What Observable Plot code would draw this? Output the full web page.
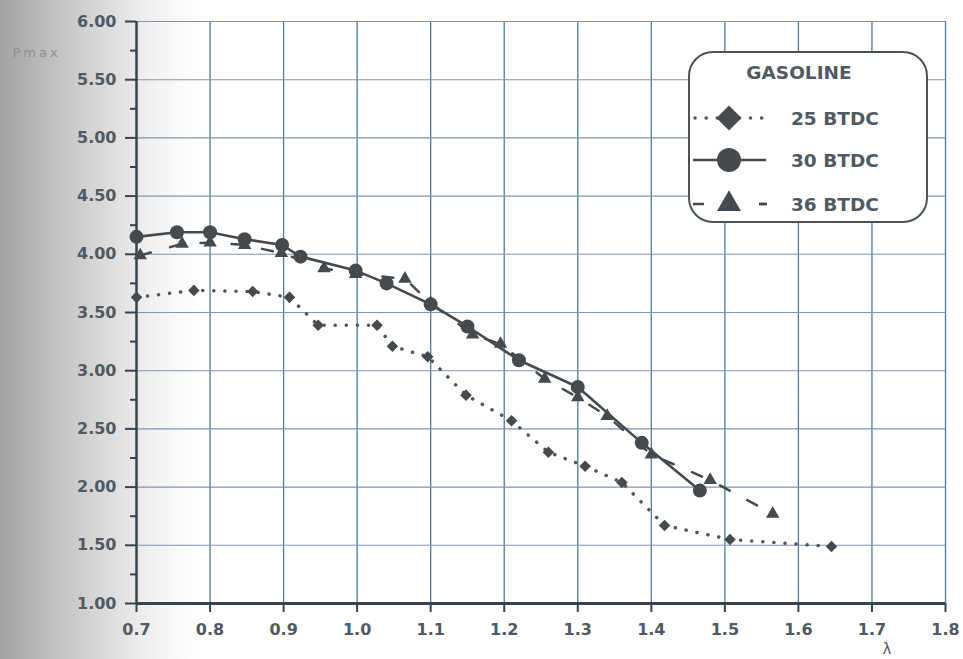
<!DOCTYPE html>
<html><head><meta charset="utf-8">
<script src="https://cdn.jsdelivr.net/npm/d3@7"></script>
<script src="https://cdn.jsdelivr.net/npm/@observablehq/plot@0.6"></script>
<style>
html,body{margin:0;padding:0;}
body{width:963px;height:659px;overflow:hidden;background:linear-gradient(to right,#a2a2a2 0px,#bcbcbc 45px,#d8d8d8 100px,#f1f1f1 150px,#ffffff 200px);font-family:"DejaVu Sans",sans-serif;}
#wrap{position:relative;width:963px;height:659px;}
#wrap svg{position:absolute;left:0;top:0;}
</style></head><body><div id="wrap"></div>
<script>
// ---- data ----
const lambda25 = [0.70, 0.778, 0.858, 0.908, 0.947, 1.027, 1.048, 1.096, 1.148, 1.21, 1.26, 1.31, 1.36, 1.418, 1.507, 1.645];
const pmax25   = [3.63, 3.69, 3.68, 3.63, 3.39, 3.39, 3.21, 3.12, 2.79, 2.57, 2.30, 2.18, 2.04, 1.67, 1.55, 1.49];
const lambda30 = [0.70, 0.755, 0.80, 0.847, 0.898, 0.923, 0.998, 1.04, 1.10, 1.15, 1.22, 1.30, 1.387, 1.466];
const pmax30   = [4.15, 4.19, 4.19, 4.13, 4.08, 3.98, 3.86, 3.75, 3.57, 3.38, 3.09, 2.86, 2.38, 1.97];
const lambda36 = [0.705, 0.762, 0.80, 0.847, 0.897, 0.955, 0.998, 1.065, 1.10, 1.157, 1.195, 1.255, 1.30, 1.34, 1.40, 1.48, 1.565];
const pmax36   = [3.99, 4.09, 4.10, 4.08, 4.01, 3.88, 3.83, 3.79, 3.58, 3.31, 3.23, 2.93, 2.77, 2.61, 2.28, 2.06, 1.77];
const xTicks = [0.7, 0.8, 0.9, 1.0, 1.1, 1.2, 1.3, 1.4, 1.5, 1.6, 1.7, 1.8];
const yMajor = [1.0, 1.5, 2.0, 2.5, 3.0, 3.5, 4.0, 4.5, 5.0, 5.5, 6.0];
const yMinor = [1.25, 1.75, 2.25, 2.75, 3.25, 3.75, 4.25, 4.75, 5.25, 5.75];
const seriesNames = ["25 BTDC", "30 BTDC", "36 BTDC"];
const legendTitle = "GASOLINE";
const yLabel = "Pmax";
const xLabel = "λ";

const ink = "#454a4e";
const axisInk = "#35444d";
const textInk = "#505a62";
const fontFam = "'DejaVu Sans', sans-serif";

const plot = Plot.plot({
  width: 963,
  height: 659,
  marginLeft: 136,
  marginRight: 18,
  marginTop: 21,
  marginBottom: 56,
  x: {domain: [0.7, 1.8]},
  y: {domain: [1, 6]},
  style: {background: "transparent", fontFamily: fontFam, fontSize: "16px", fontWeight: "bold", color: textInk},
  marks: [
    Plot.ruleX(xTicks.slice(1), {stroke: "#4e7d96", strokeWidth: 1.3}),
    Plot.ruleY(yMajor.slice(1), {stroke: "#7f95b5", strokeWidth: 1.1}),
    Plot.axisY(yMinor, {tickSize: 6, tickFormat: () => "", stroke: axisInk, strokeWidth: 2}),
    Plot.axisY(yMajor, {tickSize: 11, tickPadding: 9, tickFormat: d3.format(".2f"), stroke: axisInk, strokeWidth: 2, fill: textInk}),
    Plot.axisX(xTicks, {tickSize: 9, tickPadding: 11, tickFormat: d3.format(".1f"), stroke: axisInk, strokeWidth: 2, fill: textInk}),
    Plot.ruleX([0.7], {stroke: axisInk, strokeWidth: 2.5}),
    Plot.ruleY([1], {stroke: axisInk, strokeWidth: 3}),
    // 25 BTDC dotted with diamonds
    Plot.line(lambda25, {x: lambda25, y: pmax25, stroke: "#555", strokeWidth: 3.5, strokeDasharray: "0.1,11", strokeLinecap: "round"}),
    Plot.dot(lambda25, {x: lambda25, y: pmax25, symbol: "diamond2", r: 5.2, fill: ink, stroke: "none"}),
    // 36 BTDC dashed with triangles
    Plot.line(lambda36, {x: lambda36, y: pmax36, stroke: ink, strokeWidth: 2.5, strokeDasharray: "11,20"}),
    Plot.dot(lambda36, {x: lambda36, y: pmax36, symbol: "triangle", r: 5, fill: ink, stroke: "none"}),
    // 30 BTDC solid with circles
    Plot.line(lambda30, {x: lambda30, y: pmax30, stroke: ink, strokeWidth: 2.6}),
    Plot.dot(lambda30, {x: lambda30, y: pmax30, symbol: "circle", r: 7, fill: ink, stroke: "none"}),
    // axis titles
    Plot.text([yLabel], {frameAnchor: "top-left", dx: -124, dy: 26, fontSize: 13, fontWeight: "normal", fill: "#8e8e8e"}),
    Plot.text([xLabel], {frameAnchor: "bottom-right", dx: -54, dy: 50, lineAnchor: "bottom", fontSize: 15, fontWeight: "normal", fill: textInk})
  ]
});
document.getElementById("wrap").appendChild(plot);
// widen the faint "Pmax" label like the scan
d3.select(plot).selectAll("text").filter(function() { return this.textContent === yLabel; })
  .attr("letter-spacing", "3px");

// ---- legend box (overlay) ----
const lg = d3.select("#wrap").append("svg")
  .attr("width", 963).attr("height", 659)
  .style("pointer-events", "none")
  .style("font-family", fontFam);
lg.append("rect").attr("x", 689).attr("y", 52).attr("width", 238).attr("height", 170)
  .attr("rx", 24).attr("fill", "#fff").attr("stroke", "#4b5358").attr("stroke-width", 2);
lg.append("text").attr("x", 799).attr("y", 79).attr("text-anchor", "middle")
  .attr("font-size", 18.5).attr("font-weight", "bold").attr("fill", textInk).text(legendTitle);
const rowsY = [118, 160, 204];
const symX = 729;
// 25 row: dotted + diamond
lg.append("line").attr("x1", 695).attr("x2", 766).attr("y1", rowsY[0]).attr("y2", rowsY[0])
  .attr("stroke", "#555").attr("stroke-width", 3.5).attr("stroke-linecap", "round").attr("stroke-dasharray", "0.1,11");
lg.append("path").attr("d", d3.symbol(d3.symbolDiamond2, 400)()).attr("transform", `translate(${symX},${rowsY[0]})`).attr("fill", ink);
// 30 row: solid + circle
lg.append("line").attr("x1", 693).attr("x2", 766).attr("y1", rowsY[1]).attr("y2", rowsY[1])
  .attr("stroke", ink).attr("stroke-width", 2.6);
lg.append("circle").attr("cx", symX).attr("cy", rowsY[1]).attr("r", 12).attr("fill", ink);
// 36 row: dashes + triangle
lg.append("line").attr("x1", 693).attr("x2", 767).attr("y1", rowsY[2]).attr("y2", rowsY[2])
  .attr("stroke", ink).attr("stroke-width", 2.5).attr("stroke-dasharray", "11,55");
lg.append("line").attr("x1", 759).attr("x2", 767).attr("y1", rowsY[2]).attr("y2", rowsY[2])
  .attr("stroke", ink).attr("stroke-width", 2.5);
lg.append("path").attr("d", d3.symbol(d3.symbolTriangle, 250)()).attr("transform", `translate(${symX},${rowsY[2]})`).attr("fill", ink);
seriesNames.forEach((name, i) => {
  lg.append("text").attr("x", 791).attr("y", rowsY[i] + 7).attr("font-size", 18.5).attr("font-weight", "bold")
    .attr("fill", textInk).text(name);
});
</script>
</body></html>
